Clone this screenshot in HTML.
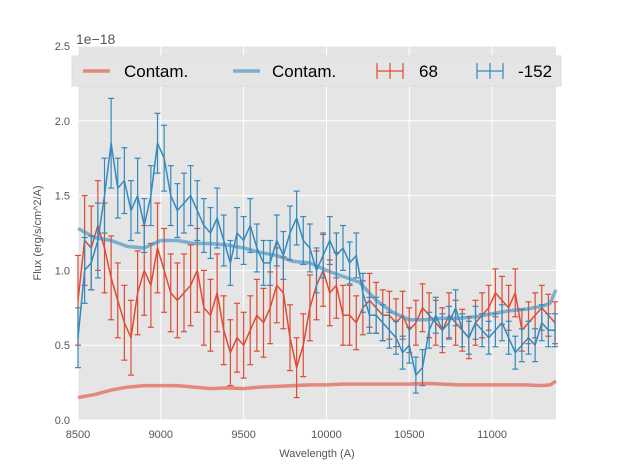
<!DOCTYPE html>
<html><head><meta charset="utf-8"><style>
body{margin:0;background:#fff;font-family:"Liberation Sans","DejaVu Sans",sans-serif}
</style></head><body>
<svg id="chart" width="617" height="467" xmlns="http://www.w3.org/2000/svg" font-family="Liberation Sans, DejaVu Sans, sans-serif"></svg>
<script>
const wave=[];for(let w=8500;w<=11380;w+=40)wave.push(w);
const blueFlux=[0.55,1.0,1.05,1.2,1.5,1.85,1.55,1.6,1.4,1.5,1.3,1.5,1.85,1.75,1.5,1.4,1.45,1.5,1.4,1.3,1.25,1.35,1.2,1.05,1.25,1.2,1.3,1.15,1.05,1.05,1.2,1.1,1.25,1.35,1.2,1.15,1.0,1.1,1.2,1.1,1.15,1.05,1.1,0.85,0.7,0.7,0.65,0.6,0.55,0.45,0.5,0.3,0.35,0.6,0.7,0.6,0.65,0.75,0.6,0.55,0.65,0.6,0.55,0.6,0.65,0.55,0.45,0.5,0.55,0.5,0.65,0.6,0.6];
const redFlux=[0.8,1.2,1.15,1.3,1.15,0.95,0.8,0.65,0.55,0.85,1.0,0.9,1.15,1.0,0.85,0.8,0.85,0.9,1.0,0.75,0.7,0.85,0.6,0.45,0.55,0.5,0.6,0.7,0.65,0.75,0.9,0.85,0.55,0.35,0.5,0.75,0.9,1.0,0.85,0.9,0.7,0.7,0.65,0.75,0.8,0.75,0.7,0.7,0.65,0.7,0.6,0.65,0.75,0.7,0.65,0.6,0.7,0.65,0.6,0.55,0.65,0.7,0.75,0.85,0.8,0.75,0.85,0.6,0.65,0.7,0.75,0.7,0.65];
const blueErr=[0.2,0.22,0.18,0.25,0.25,0.3,0.2,0.22,0.2,0.25,0.18,0.2,0.2,0.22,0.2,0.18,0.2,0.2,0.2,0.18,0.17,0.2,0.17,0.15,0.17,0.16,0.18,0.16,0.15,0.15,0.17,0.16,0.18,0.18,0.16,0.16,0.15,0.15,0.16,0.15,0.15,0.14,0.15,0.13,0.12,0.12,0.12,0.12,0.11,0.11,0.12,0.12,0.12,0.12,0.12,0.11,0.11,0.12,0.11,0.11,0.11,0.11,0.11,0.11,0.12,0.11,0.11,0.11,0.11,0.11,0.12,0.11,0.11];
const redErr=[0.3,0.3,0.28,0.3,0.3,0.28,0.25,0.25,0.25,0.28,0.3,0.28,0.3,0.28,0.26,0.25,0.26,0.27,0.28,0.25,0.24,0.26,0.23,0.22,0.23,0.22,0.23,0.24,0.23,0.24,0.25,0.24,0.22,0.2,0.21,0.22,0.23,0.24,0.22,0.22,0.2,0.2,0.18,0.18,0.18,0.17,0.17,0.16,0.16,0.16,0.15,0.15,0.16,0.15,0.15,0.15,0.15,0.15,0.14,0.14,0.15,0.15,0.15,0.16,0.16,0.15,0.16,0.14,0.14,0.15,0.15,0.14,0.14];
const contamWave=[8500,8600,8700,8800,8900,9000,9100,9200,9300,9400,9500,9600,9700,9800,9900,10000,10100,10200,10300,10400,10500,10600,10700,10800,10900,11000,11100,11200,11300,11350,11386];
const contamRed=[0.15,0.17,0.2,0.22,0.23,0.23,0.23,0.22,0.21,0.215,0.21,0.22,0.225,0.23,0.235,0.235,0.24,0.24,0.24,0.24,0.24,0.245,0.24,0.235,0.235,0.235,0.235,0.235,0.23,0.235,0.26];
const contamBlue=[1.28,1.22,1.2,1.16,1.15,1.2,1.2,1.18,1.18,1.17,1.15,1.12,1.1,1.06,1.05,1.0,0.96,0.92,0.8,0.72,0.67,0.67,0.68,0.68,0.69,0.71,0.73,0.74,0.76,0.78,0.87];
const yTicks=[0,0.5,1.0,1.5,2.0,2.5];
const yTickLabels=["0.0","0.5","1.0","1.5","2.0","2.5"];
const xTicks=[8500,9000,9500,10000,10500,11000];
const xTickLabels=["8500","9000","9500","10000","10500","11000"];

const L=78,R=556,T=46,B=420,XMIN=8500,XMAX=11386,YMAX=2.5;
const X=w=>L+(w-XMIN)/(XMAX-XMIN)*(R-L);
const Y=v=>B-v/YMAX*(B-T);
const svg=document.getElementById('chart');
const NS='http://www.w3.org/2000/svg';
function mk(tag,attrs,parent){const e=document.createElementNS(NS,tag);for(const k in attrs)e.setAttribute(k,attrs[k]);(parent||svg).appendChild(e);return e;}

const bg=mk('rect',{x:L,y:T,width:R-L,height:B-T,fill:'#e5e5e5'});


yTicks.forEach((v,i)=>{
  const g=mk('line',{x1:L,x2:R,y1:Y(v),y2:Y(v),stroke:'#fff','stroke-width':1});
  
  
  const t=mk('text',{x:L-8,y:Y(v)+4,'text-anchor':'end','font-size':11,fill:'#555'});t.textContent=yTickLabels[i];
  
  
});
xTicks.forEach((v,i)=>{
  const g=mk('line',{x1:X(v),x2:X(v),y1:T,y2:B,stroke:'#fff','stroke-width':1});
  
  
  const t=mk('text',{x:X(v),y:B+18,'text-anchor':'middle','font-size':11,fill:'#555'});t.textContent=xTickLabels[i];
  
  
});

function poly(xs,ys,color,width,op,name){
  const p=mk('polyline',{points:xs.map((w,i)=>X(w)+','+Y(ys[i])).join(' '),fill:'none',stroke:color,'stroke-width':width,'stroke-opacity':op,'stroke-linejoin':'round'});
  
  
}
function errs(vals,err,color,name){
  const g=mk('g',{stroke:color,'stroke-width':1.2});
  
  
  wave.forEach((w,i)=>{
    const x=X(w),y1=Y(vals[i]-err[i]),y2=Y(vals[i]+err[i]);
    mk('line',{x1:x,x2:x,y1:y1,y2:y2},g);
    mk('line',{x1:x-3,x2:x+3,y1:y1,y2:y1},g);
    mk('line',{x1:x-3,x2:x+3,y1:y2,y2:y2},g);
  });
}
errs(redFlux,redErr,'#E24A33','errorbars-68');
poly(wave,redFlux,'#E24A33',1.5,1,'series-68-line');
errs(blueFlux,blueErr,'#348ABD','errorbars-152');
poly(wave,blueFlux,'#348ABD',1.5,1,'series-152-line');
poly(contamWave,contamRed,'#E24A33',3.5,0.6,'contam-red-line');
poly(contamWave,contamBlue,'#348ABD',3.5,0.6,'contam-blue-line');

// legend
const lg=mk('g',{});


mk('rect',{x:72,y:56,width:489,height:30,fill:'#e5e5e5',stroke:'#ddd'},lg);
mk('line',{x1:83,x2:110,y1:71,y2:71,stroke:'#E24A33','stroke-width':3.5,'stroke-opacity':0.6},lg);
mk('line',{x1:233,x2:260,y1:71,y2:71,stroke:'#348ABD','stroke-width':3.5,'stroke-opacity':0.6},lg);
[[377,'#E24A33'],[477,'#348ABD']].forEach(([x,c])=>{
  const e=mk('g',{stroke:c,'stroke-width':1.2},lg);
  mk('line',{x1:x,x2:x+26,y1:71,y2:71},e);
  mk('line',{x1:x+13,x2:x+13,y1:63,y2:79},e);
  mk('line',{x1:x,x2:x,y1:63,y2:79},e);
  mk('line',{x1:x+26,x2:x+26,y1:63,y2:79},e);
});
[[124,'Contam.','legend-contam-red'],[272,'Contam.','legend-contam-blue'],[419,'68','legend-68'],[518,'-152','legend-152']].forEach(([x,s,n])=>{
  const t=mk('text',{x:x,y:77,'font-size':17,fill:'#000'},lg);t.textContent=s;
  
  
});

const off=mk('text',{x:76,y:44,'font-size':14,fill:'#555'});off.textContent='1e\u221218';


const xl=mk('text',{x:317,y:457,'text-anchor':'middle','font-size':11,fill:'#555'});xl.textContent='Wavelength (A)';


const yl=mk('text',{x:0,y:0,'text-anchor':'middle','font-size':11,fill:'#555',transform:'translate(41,233) rotate(-90)'});yl.textContent='Flux (erg/s/cm^2/A)';


</script>
</body></html>
